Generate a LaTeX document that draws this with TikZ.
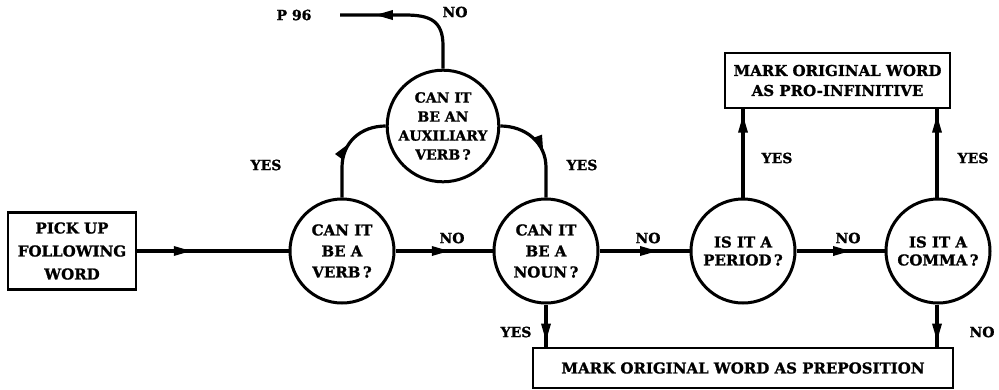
\documentclass[tikz,border=0pt]{standalone}
\usepackage{fontspec}
\setmainfont{DejaVu Serif}[BoldFeatures={FakeBold=1.2}]
\usetikzlibrary{arrows.meta,decorations.markings}

\tikzset{
  x=1pt, y=-1pt,
  txt/.style={font=\bfseries\fontsize{15}{21}\selectfont, align=center, inner sep=0pt},
  lbl/.style={font=\bfseries\fontsize{14}{16}\selectfont, inner sep=0pt},
  question/.style={txt, draw, circle, line width=3pt, minimum size=104pt},
  action/.style={txt, draw, line width=2.8pt, rectangle},
  wire/.style={line width=3.2pt},
  tipat/.style={postaction={decorate},
    decoration={markings, mark=at position #1 with {\arrow{Triangle[length=18pt,width=9pt]}}}},
}

\begin{document}
\begin{tikzpicture}
\useasboundingbox (0,0) rectangle (999,389);

% decision circles
\node[question] (verb)   at (342,251) {CAN IT\\BE A\\VERB\,?};
\node[question] (noun)   at (546,251) {CAN IT\\BE A\\NOUN\,?};
\node[question, font=\bfseries\fontsize{15}{18}\selectfont] (period) at (743,251) {IS IT A\\PERIOD\,?};
\node[question, font=\bfseries\fontsize{15}{18}\selectfont] (comma)  at (938,251) {IS IT A\\COMMA\,?};
\node[question, minimum size=110pt, font=\bfseries\fontsize{14}{19}\selectfont] (aux) at (443,126)
  {CAN IT\\BE AN\\AUXILIARY\\VERB\,?};

% action boxes
\node[action, minimum width=128pt, minimum height=77pt, font=\bfseries\fontsize{15}{23}\selectfont] (pick) at (72,251)
  {PICK UP\\FOLLOWING\\WORD};
\node[action, minimum width=225pt, minimum height=55pt, font=\bfseries\fontsize{15}{20}\selectfont] (pinf) at (837.5,80.5)
  {MARK ORIGINAL WORD\\AS PRO-INFINITIVE};
\node[action, minimum width=420pt, minimum height=40pt] (prep) at (743,368) {MARK ORIGINAL WORD AS PREPOSITION};

% exit to another page
\node[lbl] (p96) at (294,15) {P 96};
\coordinate (p96end) at (340,15);

% main chain
\draw[wire, tipat=0.36] (pick.east) -- (verb.west);
\draw[wire, tipat=0.56] (verb.east) -- (noun.west);
\draw[wire, tipat=0.65] (noun.east) -- (period.west);
\draw[wire, tipat=0.62] (period.east) -- (comma.west);

% auxiliary-verb branch
\draw[wire, tipat=0.58] (verb.north) -- ++(0,-30) .. controls +(0,-25) and +(-25,0) .. (aux.west);
\draw[wire, tipat=0.55] (aux.east) .. controls +(25,0) and +(0,-25) .. ([yshift=30pt]noun.north) -- (noun.north);
\draw[wire, tipat=0.76] (aux.north) -- ++(0,-23) .. controls +(0,-25) and +(25,0) .. (405,15) -- (p96end);

% to the result boxes
\draw[wire, tipat=0.94] (period.north) -- (period.north |- pinf.south);
\draw[wire, tipat=0.94] (comma.north -| 937,0) -- (937,0 |- pinf.south);
\draw[wire, tipat=0.88] (noun.south) -- (noun.south |- prep.north);
\draw[wire, tipat=0.88] (comma.south -| 937,0) -- (937,0 |- prep.north);

% branch labels
\node[lbl] at (266,165) {YES};
\node[lbl] at (582,165) {YES};
\node[lbl] at (455,12) {NO};
\node[lbl] at (452,238) {NO};
\node[lbl] at (648,238) {NO};
\node[lbl] at (848,238) {NO};
\node[lbl] at (777,158) {YES};
\node[lbl] at (973,158) {YES};
\node[lbl] at (516,332) {YES};
\node[lbl] at (982,332) {NO};
\end{tikzpicture}
\end{document}
